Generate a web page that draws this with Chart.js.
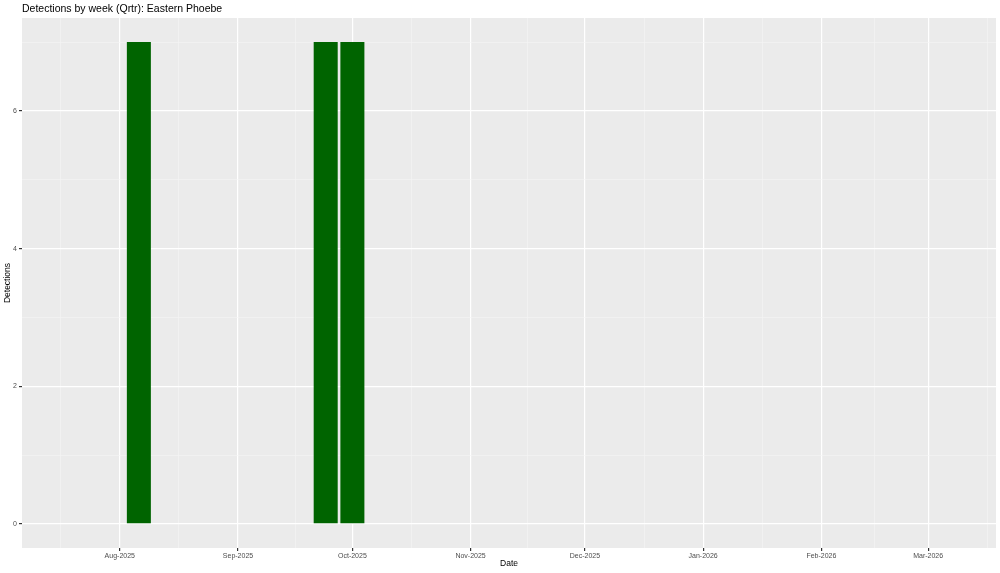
<!DOCTYPE html>
<html>
<head>
<meta charset="utf-8">
<script src="https://cdn.jsdelivr.net/npm/chart.js@4.4.1/dist/chart.umd.min.js"></script>
<style>
  html, body { margin:0; padding:0; background:#fff; }
  #wrap { width:1000px; height:573px; }
</style>
</head>
<body>
<div id="wrap"><canvas id="chart" width="1000" height="573"></canvas></div>
<script>
// data: weekly detection counts
const weekDates  = ["2025-08-06", "2025-09-24", "2025-10-01"];
const detections = [7, 7, 7];

// tick labels
const monthTicks  = ["2025-08-01","2025-09-01","2025-10-01","2025-11-01","2025-12-01","2026-01-01","2026-02-01","2026-03-01"];
const monthLabels = ["Aug-2025","Sep-2025","Oct-2025","Nov-2025","Dec-2025","Jan-2026","Feb-2026","Mar-2026"];
const yTicks      = [0, 1, 2, 3, 4, 5, 6, 7];
const yLabels     = ["0", "", "2", "", "4", "", "6", ""];

const DAY = 86400000;
const ts = s => Date.parse(s + "T00:00:00Z");

// major breaks at month starts, minor breaks halfway between them (ggplot style)
const majorX = monthTicks.map(ts);
const allMonths = [ts("2025-07-01"), ...majorX, ts("2026-04-01")];
const minorX = [];
for (let i = 0; i < allMonths.length - 1; i++) minorX.push((allMonths[i] + allMonths[i+1]) / 2);
const xTickVals = [...majorX, ...minorX].sort((a,b)=>a-b);
const labelFor = new Map(majorX.map((v,i)=>[v, monthLabels[i]]));

const X_MIN = ts("2025-08-01") - 25.65 * DAY;
const X_MAX = ts("2025-08-01") + 229.8 * DAY;

const isMajorX = c => !!(c.tick && labelFor.has(c.tick.value));
const isMajorY = c => !!(c.tick && yLabels[yTicks.indexOf(c.tick.value)]);

const panelBg = {
  id: "panelBg",
  beforeDraw(c){
    const a = c.chartArea, g = c.ctx;
    g.save();
    g.fillStyle = "#EBEBEB";
    g.fillRect(a.left, a.top, a.right - a.left, a.bottom - a.top);
    g.restore();
  }
};

const FONT = "'Liberation Sans', Arial, Helvetica, sans-serif";

new Chart(document.getElementById("chart"), {
  type: "bar",
  data: {
    datasets: [{
      data: weekDates.map((d,i)=>({ x: ts(d), y: detections[i] })),
      backgroundColor: "#006400",
      borderWidth: 0,
      barPercentage: 0.9,
      categoryPercentage: 1.0
    }]
  },
  options: {
    responsive: false,
    animation: false,
    layout: { padding: { left: 0, right: 4, top: 0, bottom: 0 } },
    plugins: {
      legend: { display: false },
      tooltip: { enabled: false },
      title: {
        display: true,
        text: "Detections by week (Qrtr): Eastern Phoebe",
        align: "start",
        fullSize: false,
        color: "#000",
        font: { family: FONT, size: 10.5, weight: "normal", lineHeight: 1.2 },
        padding: { top: 2.5, bottom: 2.9 }
      }
    },
    scales: {
      x: {
        type: "linear",
        min: X_MIN,
        max: X_MAX,
        offset: false,
        afterBuildTicks: s => { s.ticks = xTickVals.map(v=>({ value: v })); },
        afterFit: s => { s.height = 25; },
        border: { display: false },
        grid: {
          offset: false,
          color: c => isMajorX(c) ? "#FFFFFF" : "#F5F5F5",
          lineWidth: c => isMajorX(c) ? 1.2 : 0.6,
          tickColor: c => isMajorX(c) ? "#333333" : "rgba(0,0,0,0)",
          tickLength: 3,
          drawTicks: true
        },
        ticks: {
          autoSkip: false,
          maxRotation: 0,
          padding: 1,
          color: "#4D4D4D",
          font: { family: FONT, size: 7 },
          callback: v => labelFor.get(v) || ""
        },
        title: {
          display: true,
          text: "Date",
          color: "#000",
          font: { family: FONT, size: 8.5 },
          padding: { top: 0, bottom: 4 }
        }
      },
      y: {
        min: -0.35,
        max: 7.35,
        afterBuildTicks: s => { s.ticks = yTicks.map(v=>({ value: v })); },
        afterFit: s => { s.width = 22; },
        border: { display: false },
        grid: {
          color: c => isMajorY(c) ? "#FFFFFF" : "#F5F5F5",
          lineWidth: c => isMajorY(c) ? 1.2 : 0.6,
          tickColor: c => isMajorY(c) ? "#333333" : "rgba(0,0,0,0)",
          tickLength: 3
        },
        ticks: {
          autoSkip: false,
          padding: 2,
          color: "#4D4D4D",
          font: { family: FONT, size: 7 },
          callback: v => yLabels[yTicks.indexOf(v)] || ""
        },
        title: {
          display: true,
          text: "Detections",
          color: "#000",
          font: { family: FONT, size: 8.5 },
          padding: { top: 3, bottom: 0 }
        }
      }
    }
  },
  plugins: [panelBg]
});
</script>
</body>
</html>
